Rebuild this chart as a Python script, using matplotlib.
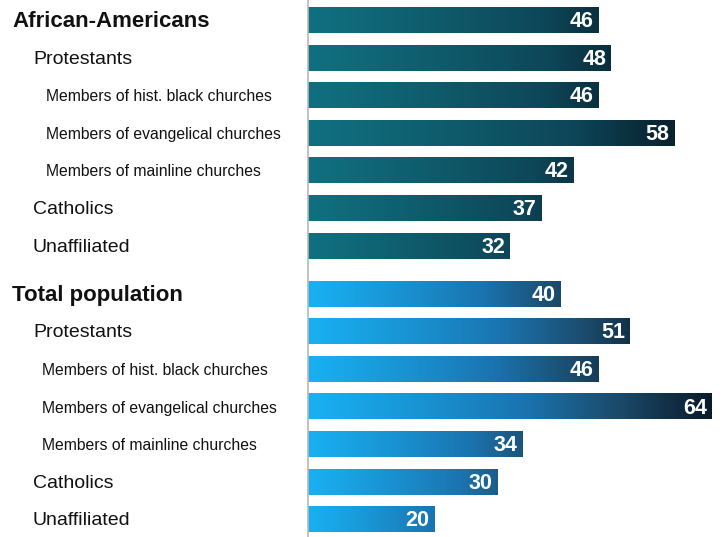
import numpy as np
import matplotlib.pyplot as plt
from matplotlib.colors import LinearSegmentedColormap
from matplotlib.transforms import blended_transform_factory

plt.rcParams['font.family'] = ['Liberation Sans', 'DejaVu Sans']

groups = ["African-Americans", "Total population"]
subgroups = ["Protestants", "Members of hist. black churches",
             "Members of evangelical churches", "Members of mainline churches",
             "Catholics", "Unaffiliated"]
levels = [1, 2, 2, 2, 1, 1]
aa_values = [46, 48, 46, 58, 42, 37, 32]
total_values = [40, 51, 46, 64, 34, 30, 20]

XMAX = 65.6
GAP = 0.28
BAR_H = 0.69

cmaps = [
    LinearSegmentedColormap.from_list(
        "teal", [(0, "#10707f"), (0.66, "#0d4658"), (0.85, "#0a2c3a"), (1.0, "#071c28")]),
    LinearSegmentedColormap.from_list(
        "blue", [(0, "#18b0f2"), (0.5, "#1a74b0"), (0.75, "#1b4a6a"), (1.0, "#0a1a2a")]),
]

fig = plt.figure(figsize=(7.22, 5.37), dpi=100)
ax = fig.add_axes([308 / 722, 0, 1 - 308 / 722, 1])

trans = blended_transform_factory(fig.transFigure, ax.transData)
indent_x = {0: 12, 1: 33, 2: 46}
sizes = {0: 16, 1: 14, 2: 11.3}

t = np.linspace(0, 1, 256)
for g, (name, vals) in enumerate(zip(groups, [aa_values, total_values])):
    labels = [name] + subgroups
    lev = [0] + levels
    for i, (lab, lv, v) in enumerate(zip(labels, lev, vals)):
        y = g * (7 + GAP) + i
        grad = (t ** 1.1 * (v / 64.0) ** 0.6).reshape(1, -1)
        ax.imshow(grad, cmap=cmaps[g], vmin=0, vmax=1, aspect='auto',
                  extent=[0, v, y + BAR_H / 2, y - BAR_H / 2], interpolation='bilinear')
        ax.text(v - 0.75, y + 0.04, str(v), color='white', fontsize=15.5,
                fontweight='bold', ha='right', va='center')
        xpx = indent_x[lv] - (4 if (g == 1 and lv == 2) else 0)
        ax.text(xpx / 722, y + 0.04, lab, transform=trans, fontsize=sizes[lv],
                fontweight='bold' if lv == 0 else 'normal', color='#111111',
                ha='left', va='center')

ax.set_xlim(0, XMAX)
ax.set_ylim(13.75, -0.53)
for s in ['top', 'right', 'bottom']:
    ax.spines[s].set_visible(False)
ax.spines['left'].set_color('#b8b8b8')
ax.spines['left'].set_linewidth(1.2)
ax.set_xticks([])
ax.set_yticks([])
ax.patch.set_alpha(0)

fig.savefig("out.png", dpi=100)
